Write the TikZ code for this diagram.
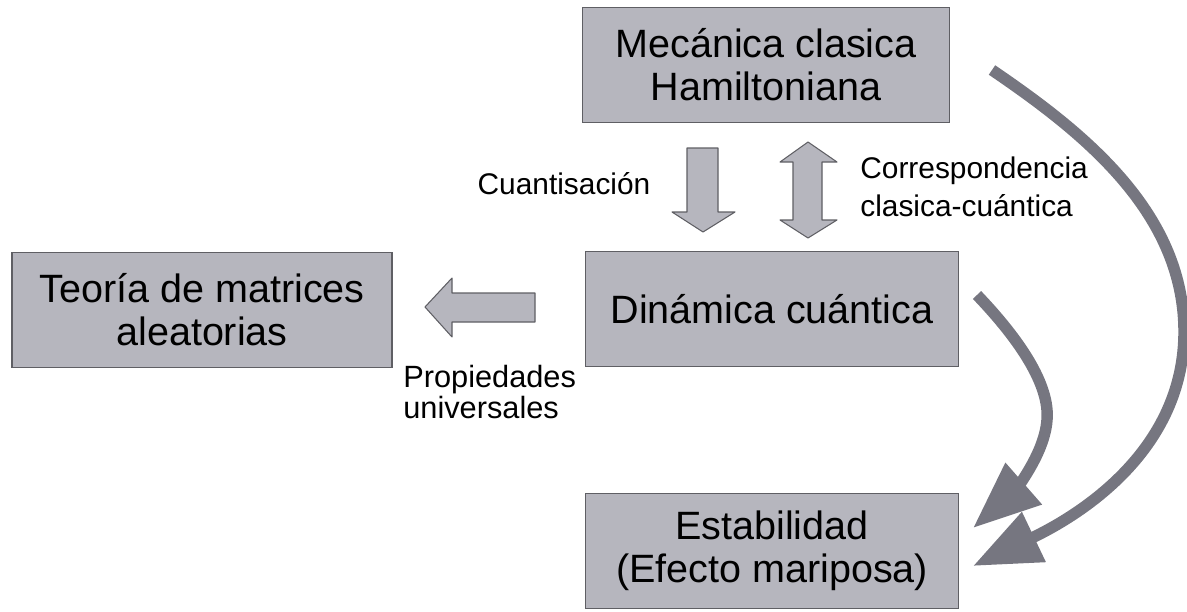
\documentclass[tikz,border=0pt]{standalone}
\usepackage{fontspec}
\setmainfont{Liberation Sans}
\usetikzlibrary{arrows.meta,positioning}
\definecolor{boxfill}{RGB}{182,182,190}
\definecolor{boxline}{RGB}{95,95,100}
\definecolor{curvecol}{RGB}{118,118,128}
\tikzset{
  box/.style={draw=boxline,fill=boxfill,line width=0.8pt,minimum width=7.45cm,minimum height=2.3cm,align=center,font=\fontsize{22.5}{24.5}\selectfont},
  lbl/.style={align=left,inner sep=0pt,font=\fontsize{17}{21.5}\selectfont},
  blockarrow/.style={draw=boxline,fill=boxfill,line width=0.6pt,line join=round},
  curvearrow/.style={draw=curvecol,line width=6.5pt,-{Triangle[length=1.35cm,width=1.05cm]}}
}
\begin{document}
\begin{tikzpicture}[x=0.02cm,y=-0.02cm]
\useasboundingbox (0,0) rectangle (1187,612);
\node[box,minimum width=7.34cm] (mec) at (766,65) {Mecánica clasica\\Hamiltoniana}; %top box
\node[box] (din) at (772,309) {Dinámica cuántica}; %middle box
\node[box,minimum width=7.6cm] (teo) at (202,310) {Teoría de matrices\\aleatorias}; %left box
\node[box] (est) at (772,551) {Estabilidad\\(Efecto mariposa)}; %bottom box

\node[lbl] (cuant) at (564,184) {Cuantisación}; %quantisation label
\node[lbl,anchor=west] (corr) at (860,187) {Correspondencia\\clasica-cuántica}; %correspondence label
\node[lbl,anchor=west,font=\fontsize{17.5}{18}\selectfont] (prop) at (403,392) {Propiedades\\universales}; %universal label

\draw[blockarrow] (687,148)--(718,148)--(718,212)--(735,212)--(703,232)--(672,212)--(687,212)--cycle; %down arrow
\draw[blockarrow] (808,142)--(837,162)--(822,162)--(822,220)--(837,220)--(808,238)--(780,220)--(793,220)--(793,162)--(780,162)--cycle; %double arrow
\draw[blockarrow] (535,293)--(535,322)--(452,322)--(452,337)--(425,307)--(452,278)--(452,293)--cycle; %left arrow

\coordinate (a1) at (977,295);
\coordinate (a2) at (973,528);
\coordinate (b1) at (992,70);
\coordinate (b2) at (973,566);
\draw[curvearrow] (a1) .. controls (1020,340) and (1050,385) .. (1047,420) .. controls (1044,460) and (1005,500) .. (a2); %inner curve
\draw[curvearrow] (b1) .. controls (1080,130) and (1183,210) .. (1184,330) .. controls (1185,450) and (1080,515) .. (b2); %outer curve
\end{tikzpicture}
\end{document}
